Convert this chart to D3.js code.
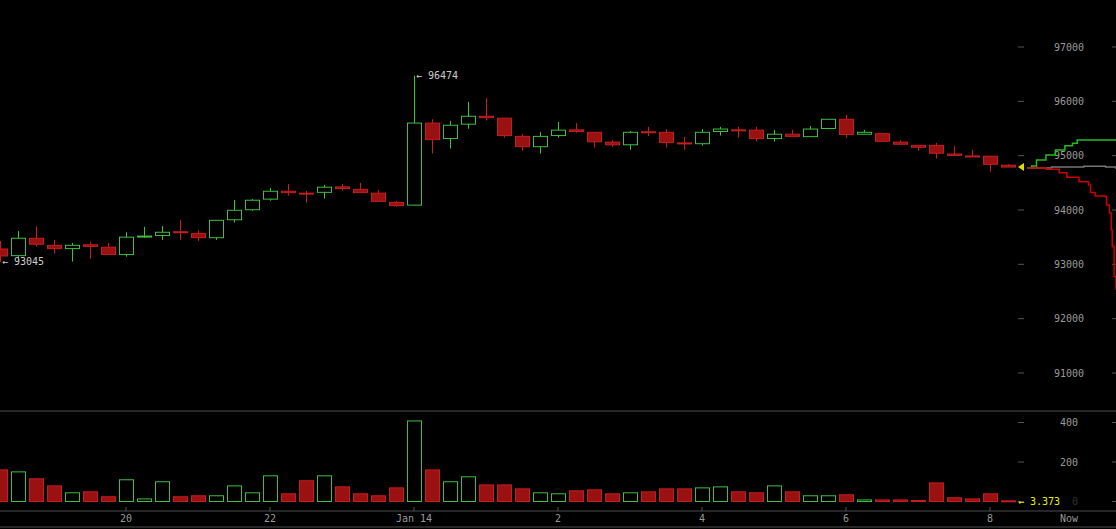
<!DOCTYPE html>
<html>
<head>
<meta charset="UTF-8">
<script src="https://d3js.org/d3.v7.min.js"></script>
<style>
  body { margin:0; background:#000; }
  text { font-family:'DejaVu Sans Mono', monospace; font-size:10px; }
</style>
</head>
<body>
<div id="chart"></div>
<script>
// 15 minute candles, index 0 = Jan 14 00:00
const idx = d3.range(-23, 34);
const opens  = [93283,93160,93480,93350,93290,93360,93315,93180,93515,93530,93600,93570,93490,93820,94005,94200,94345,94310,94325,94425,94380,94310,94140,
  94090,95600,95315,95580,95725,95690,95355,95165,95370,95475,95430,95250,95200,95440,95430,95235,95220,95445,95475,95470,95315,95395,95350,95500,95670,
  95395,95405,95250,95190,95190,95030,94995,94990,94825];
const closes = [93154,93480,93370,93290,93350,93330,93180,93500,93520,93590,93590,93490,93810,93995,94180,94345,94320,94305,94420,94395,94320,94160,94080,
  95600,95295,95560,95725,95700,95370,95165,95355,95470,95445,95255,95200,95430,95425,95240,95230,95430,95490,95460,95315,95395,95355,95490,95670,95390,
  95430,95265,95210,95155,95045,95005,94985,94840,94790];
const highs  = [93430,93614,93700,93450,93395,93410,93395,93590,93690,93705,93815,93630,93810,94185,94200,94405,94480,94350,94460,94480,94500,94370,94170,
  96474,95670,95640,95990,96060,95690,95400,95435,95620,95600,95430,95290,95455,95530,95490,95345,95490,95530,95530,95530,95475,95475,95545,95670,95750,
  95475,95405,95290,95190,95235,95180,95105,94990,94845];
const lows   = [93045,93080,93325,93200,93050,93105,93180,93140,93490,93450,93450,93430,93450,93770,93985,94170,94265,94135,94210,94360,94320,94160,94060,
  94080,95040,95130,95495,95645,95330,95090,95040,95330,95420,95150,95160,95105,95360,95150,95110,95185,95370,95330,95260,95260,95355,95350,95500,95330,
  95395,95265,95210,95090,94945,95005,94985,94705,94790];
const volumes = [160,150,115,79,44,49,24,110,13,100,24,29,29,79,44,130,39,105,130,74,39,29,69,
  408,160,100,125,84,84,64,44,39,54,59,39,44,49,64,64,69,74,49,44,79,49,29,29,34,8,8,8,5,94,19,13,39,3.373];

// order book depth (cumulative amount, price)
const bidDepth = [0,5,10,20,30,40,48,53,100];
const bidPrice = [94779,94810,94920,95012,95104,95184,95230,95289,95289];
const askDepth = [0,20,34,42,55,65,67,72,83,84,87,89,90,92,94];
const askPrice = [94774,94750,94687,94603,94522,94461,94320,94258,94246,94093,93946,93633,93326,92774,92529];
const midDepth = [0,26,60,83,94];
const midPrice = [94774,94792,94805,94792,94755];

const priceTicks = [91000,92000,93000,94000,95000,96000,97000];
const volTicks = [0,200,400];
const timeTicks = [-16,-8,0,8,16,24,32];
const timeLabels = ["20","22","Jan 14","2","4","6","8"];

const W = 1116, H = 529;
const svg = d3.select('#chart').append('svg').attr('width', W).attr('height', H);
svg.append('rect').attr('width', W).attr('height', H).attr('fill', '#000');

const x = d3.scaleLinear().domain([-23, 33]).range([0, 1008]);
const y = d3.scaleLinear().domain([91000, 97000]).range([373, 47]);
const yv = d3.scaleLinear().domain([0, 400]).range([501.5, 422.5]);
const xd = d3.scaleLinear().domain([0, 94]).range([1027, 1116]);

const RED = '#c41e1e', REDF = '#9a1111', GREEN = '#3fbf3f';
const bw = 14;

// panel lines
[411, 511, 527].forEach(py => svg.append('line').attr('x1',0).attr('x2',W).attr('y1',py).attr('y2',py)
  .attr('stroke','#333').attr('stroke-width',1.5));

// price axis
const pa = svg.append('g');
priceTicks.forEach(p => {
  pa.append('line').attr('x1',1018).attr('x2',1024).attr('y1',y(p)).attr('y2',y(p)).attr('stroke','#555');
  pa.append('line').attr('x1',1112).attr('x2',1116).attr('y1',y(p)).attr('y2',y(p)).attr('stroke','#555');
  pa.append('text').attr('x',1084).attr('y',y(p)+3.5).attr('text-anchor','end').attr('fill','#999').text(p);
});
volTicks.forEach(v => {
  svg.append('line').attr('x1',1018).attr('x2',1024).attr('y1',yv(v)).attr('y2',yv(v)).attr('stroke','#555');
  svg.append('line').attr('x1',1112).attr('x2',1116).attr('y1',yv(v)).attr('y2',yv(v)).attr('stroke','#555');
  svg.append('text').attr('x',1078).attr('y',yv(v)+3.5).attr('text-anchor','end')
    .attr('fill', v === 0 ? '#333' : '#999').text(v);
});
timeTicks.forEach((t, i) => {
  svg.append('line').attr('x1',x(t)).attr('x2',x(t)).attr('y1',507).attr('y2',511).attr('stroke','#555');
  svg.append('text').attr('x',x(t)).attr('y',522).attr('text-anchor','middle').attr('fill','#999').text(timeLabels[i]);
});
svg.append('text').attr('x',1069).attr('y',522).attr('text-anchor','middle').attr('fill','#999').text('Now');

// candles
const candles = idx.map((t, i) => ({t, o: opens[i], c: closes[i], h: highs[i], l: lows[i], v: volumes[i]}));
const g = svg.append('g');
candles.forEach(d => {
  const up = d.c >= d.o;
  const col = up ? GREEN : RED;
  const cx = Math.round(x(d.t)) + 0.5;
  const top = y(Math.max(d.o, d.c)), bot = y(Math.min(d.o, d.c));
  g.append('line').attr('x1',cx).attr('x2',cx).attr('y1',y(d.h)).attr('y2',y(d.l)).attr('stroke',col);
  g.append('rect').attr('x',cx-bw/2).attr('y',top).attr('width',bw).attr('height',Math.max(bot-top,1))
    .attr('fill', up ? '#000' : REDF).attr('stroke',col);
  // volume
  g.append('rect').attr('x',cx-bw/2).attr('y',yv(d.v)).attr('width',bw).attr('height',Math.max(yv(0)-yv(d.v),1))
    .attr('fill', up ? '#000' : REDF).attr('stroke',col);
});

// depth lines
const line = d3.line().curve(d3.curveStepAfter);
svg.append('path').attr('d', line(midDepth.map((d,i)=>[xd(d), y(midPrice[i])]))).attr('fill','none').attr('stroke','#777').attr('stroke-width',1.5);
svg.append('path').attr('d', line(bidDepth.map((d,i)=>[xd(d), y(bidPrice[i])]))).attr('fill','none').attr('stroke','#22bb22').attr('stroke-width',1.5);
svg.append('path').attr('d', line(askDepth.map((d,i)=>[xd(d), y(askPrice[i])]))).attr('fill','none').attr('stroke','#cc0000').attr('stroke-width',1.5);

// last price marker
const last = closes[closes.length-1];
svg.append('path').attr('d', `M1018,${y(last)} l6,-4 l0,8 z`).attr('fill','#dddd00');

// annotations
const hiI = d3.maxIndex(highs), loI = d3.minIndex(lows);
svg.append('text').attr('x', x(idx[hiI]) + 2).attr('y', y(highs[hiI]) + 3).attr('fill','#ccc').text('← ' + highs[hiI]);
svg.append('text').attr('x', x(idx[loI]) + 2).attr('y', y(lows[loI]) + 3).attr('fill','#ccc').text('← ' + lows[loI]);
svg.append('text').attr('x', 1018).attr('y', yv(0) + 3).attr('fill','#eeee00').text('← ' + volumes[volumes.length-1]);
</script>
</body>
</html>
